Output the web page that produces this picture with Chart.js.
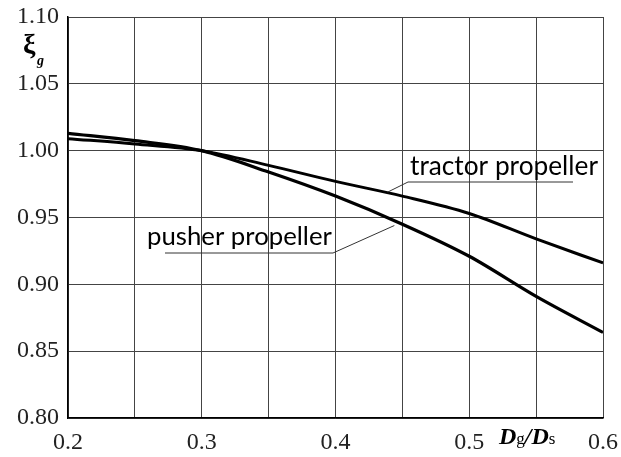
<!DOCTYPE html>
<html><head><meta charset="utf-8">
<script src="https://cdn.jsdelivr.net/npm/chart.js@4"></script>
<style>html,body{margin:0;padding:0;background:#fff}#wrap{width:621px;height:457px}</style>
</head><body><div id="wrap"><canvas id="c" width="621" height="457"></canvas></div>
<script>
const ratioValues = [0.2, 0.25, 0.3, 0.35, 0.4, 0.45, 0.5, 0.55, 0.6];
const pusherValues = [1.013, 1.0075, 1.000, 0.984, 0.966, 0.945, 0.921, 0.891, 0.864];
const tractorValues = [1.009, 1.005, 1.000, 0.989, 0.977, 0.966, 0.953, 0.934, 0.916];
const xGridValues = [0.2, 0.25, 0.3, 0.35, 0.4, 0.45, 0.5, 0.55, 0.6];
const xTickLabels = ['0.2', '0.3', '0.4', '0.5', '0.6'];
const yTickLabels = ['0.80', '0.85', '0.90', '0.95', '1.00', '1.05', '1.10'];
const seriesNames = ['pusher propeller', 'tractor propeller'];

const annot = {
  id: 'annot',
  afterDraw(chart) {
    const ctx = chart.ctx;
    const xs = chart.scales.x, ys = chart.scales.y;
    ctx.save();
    function fitFont(text, w) {
      ctx.font = '20px Lato';
      const m = ctx.measureText(text).width;
      return (20 * w / m).toFixed(2) + 'px Lato';
    }
    ctx.fillStyle = '#000';
    ctx.textBaseline = 'alphabetic';
    ctx.textAlign = 'left';
    ctx.font = fitFont(seriesNames[1], 188);
    ctx.fillText(seriesNames[1], 410, 175);
    ctx.font = fitFont(seriesNames[0], 185);
    ctx.fillText(seriesNames[0], 147, 245);
    ctx.strokeStyle = '#333';
    ctx.lineWidth = 1;
    ctx.beginPath();
    ctx.moveTo(573, 182); ctx.lineTo(408, 182);
    ctx.lineTo(xs.getPixelForValue(0.439), ys.getPixelForValue(0.969));
    ctx.stroke();
    ctx.beginPath();
    ctx.moveTo(165, 253); ctx.lineTo(333, 253);
    ctx.lineTo(xs.getPixelForValue(0.444), ys.getPixelForValue(0.944));
    ctx.stroke();
    // y title xi_g
    ctx.font = 'bold 28px "Liberation Serif"';
    ctx.fillText('\u03BE', 23, 53);
    ctx.font = 'bold italic 14px "Liberation Serif"';
    ctx.fillText('g', 37, 65);
    // x title Dg/Ds
    let x = 499; const by = 444;
    ctx.font = 'bold italic 24px "Liberation Serif"';
    ctx.fillText('D', x, by); x += ctx.measureText('D').width;
    ctx.font = '17px "Liberation Serif"';
    ctx.fillText('g', x, by); x += ctx.measureText('g').width;
    ctx.font = 'bold italic 24px "Liberation Serif"';
    ctx.fillText('/D', x, by); x += ctx.measureText('/D').width;
    ctx.font = '17px "Liberation Serif"';
    ctx.fillText('s', x, by);
    ctx.restore();
  }
};

new Chart(document.getElementById('c'), {
  type: 'line',
  data: {
    datasets: [
      { label: seriesNames[0], data: ratioValues.map((v, i) => ({ x: v, y: pusherValues[i] })),
        borderColor: '#000', borderWidth: 3.2, pointRadius: 0, cubicInterpolationMode: 'monotone', fill: false },
      { label: seriesNames[1], data: ratioValues.map((v, i) => ({ x: v, y: tractorValues[i] })),
        borderColor: '#000', borderWidth: 3, pointRadius: 0, cubicInterpolationMode: 'monotone', fill: false }
    ]
  },
  options: {
    responsive: false, animation: false,
    layout: { padding: { left: 0, right: 18, top: 17, bottom: 0 } },
    plugins: { legend: { display: false }, tooltip: { enabled: false } },
    scales: {
      x: {
        type: 'linear', min: 0.2, max: 0.6,
        afterBuildTicks: s => { s.ticks = xGridValues.map(v => ({ value: v })); },
        afterFit: s => { s.height = 39; s.paddingLeft = 0; s.paddingRight = 0; },
        grid: { color: '#444', lineWidth: 1, drawTicks: false },
        border: { color: '#000', width: 1.5 },
        ticks: {
          padding: 10, color: '#222', maxRotation: 0, autoSkip: false,
          font: { family: '"Liberation Serif"', size: 24 },
          callback: v => { const s = (+v).toFixed(1); return (Math.abs(v * 10 - Math.round(v * 10)) < 1e-6 && xTickLabels.includes(s)) ? s : ''; }
        }
      },
      y: {
        min: 0.8, max: 1.1,
        afterBuildTicks: s => { s.ticks = yTickLabels.map(t => ({ value: parseFloat(t) })); },
        afterFit: s => { s.width = 68; s.paddingTop = 0; s.paddingBottom = 0; },
        grid: { color: '#444', lineWidth: 1, drawTicks: false },
        border: { color: '#000', width: 1.5 },
        ticks: {
          padding: 9, color: '#222',
          font: { family: '"Liberation Serif"', size: 24 },
          callback: v => { const s = (+v).toFixed(2); return yTickLabels.includes(s) ? s : ''; }
        }
      }
    }
  },
  plugins: [annot]
});
</script></body></html>
